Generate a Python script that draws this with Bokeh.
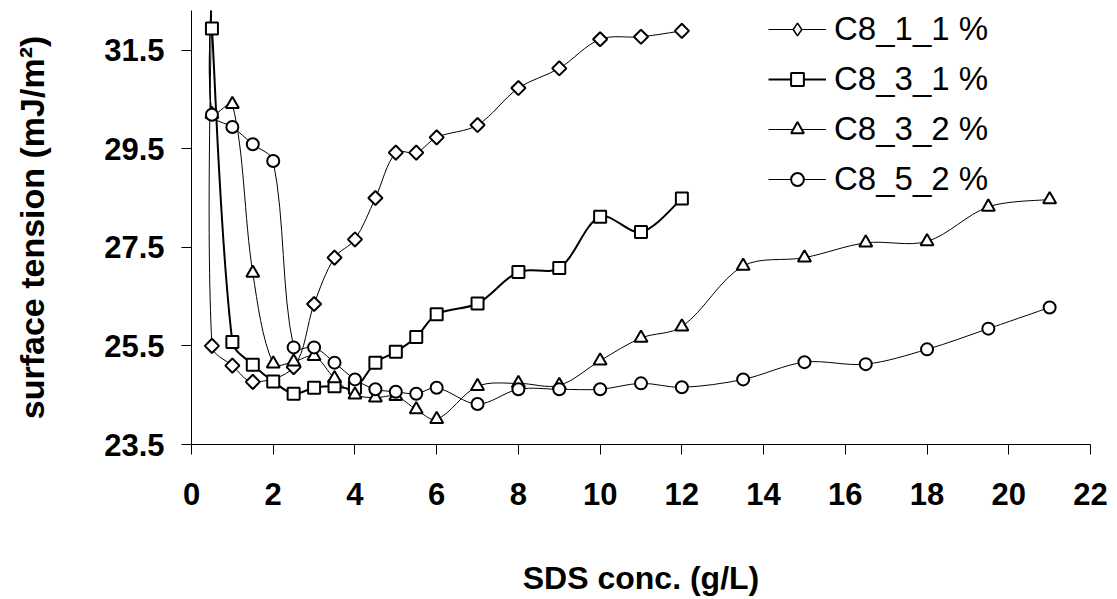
import numpy as np
from bokeh.plotting import figure
from bokeh.models import Range1d, FixedTicker, Legend, LegendItem, ColumnDataSource
from bokeh.embed import file_html
from bokeh.resources import INLINE

# SDS concentration (g/L) and surface tension (mJ/m2) for each formulation.
# The first point of several series lies above the visible range.
c811_x = [0.5, 0.5, 1, 1.5, 2.5, 3, 3.5, 4, 4.5, 5, 5.5, 6, 7, 8, 9, 10, 11, 12]
c811_y = [33.0, 25.5, 25.1, 24.77, 25.07, 26.35, 27.29, 27.66, 28.5, 29.42, 29.42,
          29.73, 29.98, 30.73, 31.13, 31.72, 31.77, 31.89]

c831_x = [0.5, 1, 1.5, 2, 2.5, 3, 3.5, 4, 4.5, 5, 5.5, 6, 7, 8, 9, 10, 11, 12]
c831_y = [31.94, 25.58, 25.12, 24.78, 24.53, 24.65, 24.68, 24.65, 25.16, 25.38,
          25.68, 26.14, 26.36, 27.0, 27.08, 28.12, 27.81, 28.49]

c832_x = [0.5, 0.5, 1, 1.5, 2, 2.5, 3, 3.5, 4, 4.5, 5, 5.5, 6, 7, 8, 9, 10, 11, 12,
          13.5, 15, 16.5, 18, 19.5, 21]
c832_y = [33.0, 30.2, 30.4, 26.98, 25.14, 25.18, 25.29, 24.84, 24.51, 24.45, 24.48,
          24.21, 24.01, 24.68, 24.74, 24.70, 25.2, 25.66, 25.89, 27.12, 27.29,
          27.59, 27.62, 28.32, 28.47]

c852_x = [0.5, 0.5, 1, 1.5, 2, 2.5, 3, 3.5, 4, 4.5, 5, 5.5, 6, 7, 8, 9, 10, 11, 12,
          13.5, 15, 16.5, 18, 19.5, 21]
c852_y = [33.0, 30.19, 29.94, 29.59, 29.25, 25.47, 25.47, 25.16, 24.82, 24.62,
          24.57, 24.53, 24.65, 24.32, 24.62, 24.62, 24.62, 24.74, 24.66, 24.82,
          25.17, 25.13, 25.43, 25.85, 26.28]

labels = ["C8_1_1 %", "C8_3_1 %", "C8_3_2 %", "C8_5_2 %"]
x_ticks = list(range(0, 23, 2))
y_ticks = [23.5, 25.5, 27.5, 29.5, 31.5]

FONT = "Liberation Sans"

# Frame geometry
W, H = 1117, 599
BORDER_L, BORDER_R, BORDER_T, BORDER_B = 191, 27, 10, 155
X0, X1 = 0, 22
Y0 = 23.5
PX_PER_Y = 49.3
Y1 = Y0 + (H - BORDER_T - BORDER_B) / PX_PER_Y
PX_PER_X = (W - BORDER_L - BORDER_R) / (X1 - X0)


def smooth_segments(xs, ys, k=1.0 / 3.0):
    """Bezier pieces of a smoothed line through the points, with tangent
    lengths weighted by the neighbouring chord lengths on screen."""
    x = np.asarray(xs, float)
    y = np.asarray(ys, float)
    px, py = x * PX_PER_X, y * PX_PER_Y
    n = len(x)
    tx = np.empty(n)
    ty = np.empty(n)
    tx[1:-1] = px[2:] - px[:-2]
    ty[1:-1] = py[2:] - py[:-2]
    tx[0], ty[0] = px[1] - px[0], py[1] - py[0]
    tx[-1], ty[-1] = px[-1] - px[-2], py[-1] - py[-2]
    d = np.maximum(np.hypot(np.diff(px), np.diff(py)), 1e-9)
    dext = np.concatenate([[d[0]], d, [d[-1]]])
    w0 = k * dext[1:n] / (dext[0:n - 1] + dext[1:n])
    w1 = k * dext[1:n] / (dext[1:n] + dext[2:n + 1])
    cpx0 = px[:-1] + tx[:-1] * w0
    cpy0 = py[:-1] + ty[:-1] * w0
    cpx1 = px[1:] - tx[1:] * w1
    cpy1 = py[1:] - ty[1:] * w1
    return dict(
        x0=x[:-1], y0=y[:-1], x1=x[1:], y1=y[1:],
        cx0=cpx0 / PX_PER_X, cy0=cpy0 / PX_PER_Y,
        cx1=cpx1 / PX_PER_X, cy1=cpy1 / PX_PER_Y,
    )


p = figure(width=W, height=H, output_backend="svg", toolbar_location=None,
           x_range=Range1d(X0, X1), y_range=Range1d(Y0, Y1),
           min_border_left=BORDER_L, min_border_right=BORDER_R,
           min_border_top=BORDER_T, min_border_bottom=BORDER_B)
p.outline_line_color = None
p.xgrid.visible = False
p.ygrid.visible = False
p.background_fill_color = "white"
p.border_fill_color = "white"

# (x, y, marker, size, angle, line width)
series = [
    (c811_x, c811_y, "square", 10, np.pi / 4, 1.0),
    (c831_x, c831_y, "square", 12, 0.0, 2.0),
    (c832_x, c832_y, "triangle", 13, 0.0, 1.0),
    (c852_x, c852_y, "circle", 12, 0.0, 1.0),
]

line_rs = []
for (xs, ys, marker, size, angle, lw) in series:
    seg = ColumnDataSource(smooth_segments(xs, ys))
    line_rs.append(p.bezier(x0="x0", y0="y0", x1="x1", y1="y1", cx0="cx0",
                            cy0="cy0", cx1="cx1", cy1="cy1", source=seg,
                            line_color="black", line_width=lw))

marker_rs = []
for (xs, ys, marker, size, angle, lw) in series:
    marker_rs.append(p.scatter(xs, ys, marker=marker, size=size, angle=angle,
                               fill_color="white", line_color="black",
                               line_width=2))

# Legend key for the first series: an upright diamond placed on its
# off-scale first reading, so it only shows in the legend.
diamond_key = p.scatter(x=c811_x[:1], y=c811_y[:1], marker="diamond",
                        fill_color="white", line_color="black", line_width=1.5)
key_rs = [diamond_key] + marker_rs[1:]

items = [LegendItem(label=lab, renderers=[lr, kr])
         for lab, lr, kr in zip(labels, line_rs, key_rs)]

legend = Legend(
    items=items, location=(577, 246), orientation="vertical",
    label_text_font=FONT, label_text_font_size="33px", label_text_color="black",
    glyph_width=58, glyph_height=32, label_height=32, label_standoff=8,
    spacing=12, padding=0, margin=0,
    border_line_color=None, background_fill_alpha=0,
)
p.add_layout(legend)

for ax in (p.xaxis[0], p.yaxis[0]):
    ax.axis_line_color = "black"
    ax.axis_line_width = 1
    ax.major_tick_line_color = "black"
    ax.major_tick_out = 10
    ax.major_tick_in = 0
    ax.minor_tick_line_color = None
    ax.major_label_text_font = FONT
    ax.major_label_text_font_style = "bold"
    ax.major_label_text_font_size = "31px"
    ax.major_label_text_color = "black"
    ax.axis_label_text_font = FONT
    ax.axis_label_text_font_style = "bold"
    ax.axis_label_text_color = "black"

p.xaxis[0].ticker = FixedTicker(ticks=x_ticks)
p.yaxis[0].ticker = FixedTicker(ticks=y_ticks)
p.xaxis[0].major_label_standoff = 28
p.yaxis[0].major_label_standoff = 17
p.xaxis[0].axis_label = "SDS conc. (g/L)"
p.yaxis[0].axis_label = "surface tension (mJ/m\u00b2)"
p.xaxis[0].axis_label_text_font_size = "32px"
p.yaxis[0].axis_label_text_font_size = "34px"
p.xaxis[0].axis_label_standoff = 52
p.yaxis[0].axis_label_standoff = 50

open("out.html", "w").write(file_html(p, INLINE))
